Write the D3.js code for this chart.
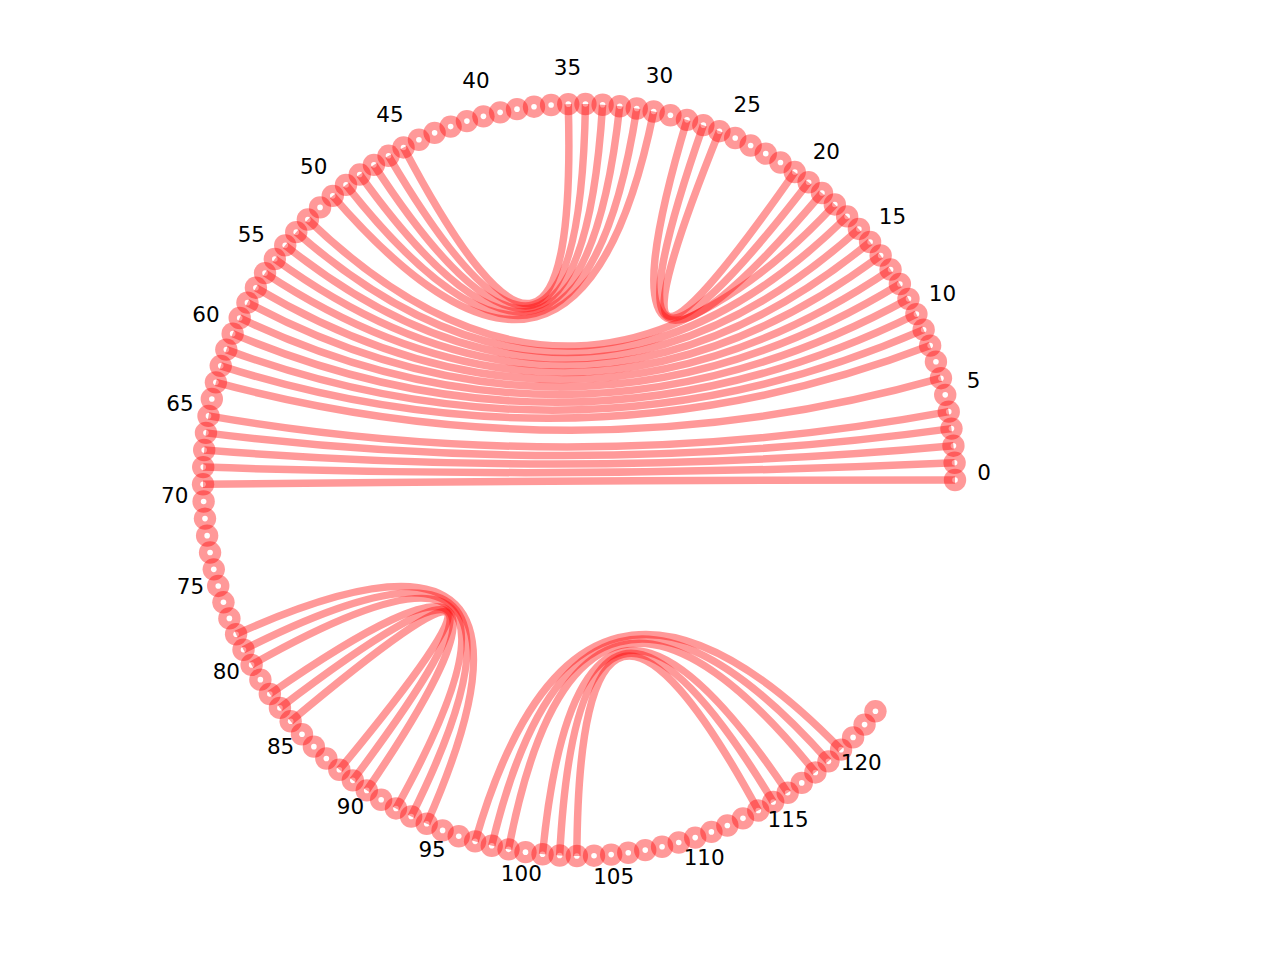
<!DOCTYPE html>
<html lang="en">
        <head>
                <meta charset="utf-8">
                <title>Circos</title>
                <style>
                  body { margin: 0; background: #fff; }
                </style>
        </head>
        <body>

<svg id="circos" width="1280" height="960"></svg>
<script src="https://d3js.org/d3.v7.min.js"></script>
<script>
// nodes are just numbered 0..nodeCount-1 round the circle
const nodeCount = 124;
const labelNodes = [0, 5, 10, 15, 20, 25, 30, 35, 40, 45, 50, 55, 60, 65, 70, 75, 80, 85, 90, 95, 100, 105, 110, 115, 120];

// edges (source[i] -> target[i])
const edgeSource = [0, 1, 2, 3, 4,
                    6, 8, 9, 10, 11, 12, 13, 14, 15, 16, 17, 18,
                    19, 20, 21,
                    30, 31, 32, 33, 34, 35,
                    78, 79, 80, 82, 83, 84,
                    97, 98, 99, 101, 102, 103];
const edgeTarget = [69, 68, 67, 66, 65,
                    63, 62, 61, 60, 59, 58, 57, 56, 55, 54, 53, 52,
                    28, 27, 26,
                    50, 49, 48, 47, 46, 45,
                    94, 93, 92, 90, 89, 88,
                    120, 119, 118, 116, 115, 114];

const cx = 579;
const cy = 480;
const ringRadius = 376;
const labelRadius = 405;

const svg = d3.select("#circos");

// one slot is ~2.62 degrees, the ring is not closed
const angle = d3.scaleLinear().domain([0, 137.5]).range([0, 2 * Math.PI]);

function pos(k, r) {
  const a = angle(k);
  return [cx + r * Math.cos(a), cy - r * Math.sin(a)];
}

const nodes = d3.range(nodeCount);

// red discs
svg.append("g")
  .selectAll("circle")
  .data(nodes)
  .join("circle")
  .attr("cx", d => pos(d, ringRadius)[0])
  .attr("cy", d => pos(d, ringRadius)[1])
  .attr("r", 11.2)
  .attr("fill", "red")
  .attr("fill-opacity", 0.4);

// white centres
svg.append("g")
  .selectAll("circle")
  .data(nodes)
  .join("circle")
  .attr("cx", d => pos(d, ringRadius)[0])
  .attr("cy", d => pos(d, ringRadius)[1])
  .attr("r", 2.8)
  .attr("fill", "white");

// edges: quadratic curve with the control point at the centre
const edges = edgeSource.map((s, i) => [s, edgeTarget[i]]);
svg.append("g")
  .selectAll("path")
  .data(edges)
  .join("path")
  .attr("d", d => {
    const p = d3.path();
    const a = pos(d[0], ringRadius);
    const b = pos(d[1], ringRadius);
    p.moveTo(a[0], a[1]);
    p.quadraticCurveTo(cx, cy, b[0], b[1]);
    return p.toString();
  })
  .attr("fill", "none")
  .attr("stroke", "red")
  .attr("stroke-opacity", 0.4)
  .attr("stroke-width", 7.5)
  .attr("stroke-linecap", "butt");

// labels
svg.append("g")
  .selectAll("text")
  .data(labelNodes)
  .join("text")
  .attr("x", d => pos(d, labelRadius)[0])
  .attr("y", d => pos(d, labelRadius)[1])
  .attr("text-anchor", "middle")
  .attr("font-family", "DejaVu Sans")
  .attr("font-size", 21.5)
  .attr("fill", "black")
  .text(d => d);
</script>
        </body>
</html>
